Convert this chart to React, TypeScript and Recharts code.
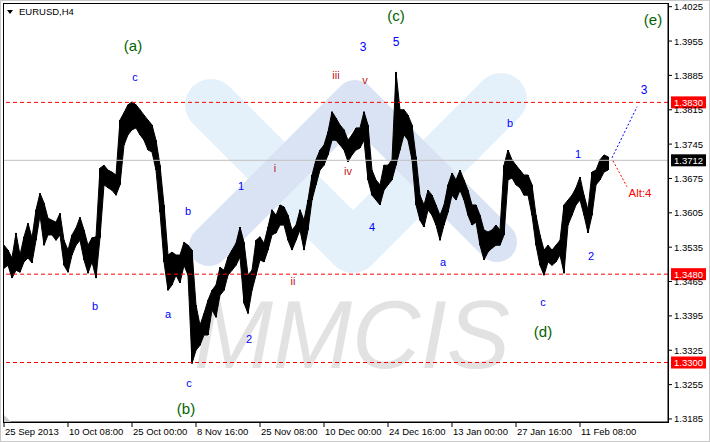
import React from 'react';
import { ComposedChart, Bar, Area, XAxis, YAxis, ReferenceLine, ReferenceDot } from 'recharts';

// EURUSD H4 – sampled every 4 bars (high / low of each sample)
const highs = [
  1.3539, 1.3529, 1.3513, 1.3564, 1.3519, 1.3556, 1.3584, 1.3554, 1.3611, 1.3645,
  1.3625, 1.3594, 1.3590, 1.3586, 1.3604, 1.3549, 1.3529, 1.3560, 1.3574, 1.3596,
  1.3570, 1.3539, 1.3554, 1.3556, 1.3696, 1.3702, 1.3692, 1.3688, 1.3682, 1.3794,
  1.3809, 1.3825, 1.3831, 1.3825, 1.3815, 1.3804, 1.3794, 1.3784, 1.3753, 1.3702,
  1.3621, 1.3519, 1.3525, 1.3519, 1.3519, 1.3545, 1.3539, 1.3529, 1.3417, 1.3376,
  1.3400, 1.3427, 1.3447, 1.3458, 1.3494, 1.3488, 1.3515, 1.3529, 1.3543, 1.3576,
  1.3545, 1.3478, 1.3488, 1.3549, 1.3556, 1.3543, 1.3576, 1.3611, 1.3600, 1.3621,
  1.3617, 1.3600, 1.3570, 1.3580, 1.3611, 1.3590, 1.3631, 1.3682, 1.3713, 1.3733,
  1.3743, 1.3770, 1.3811, 1.3798, 1.3784, 1.3774, 1.3753, 1.3764, 1.3778, 1.3778,
  1.3811, 1.3784, 1.3692, 1.3672, 1.3662, 1.3702, 1.3702, 1.3713, 1.3892, 1.3815,
  1.3815, 1.3804, 1.3784, 1.3719, 1.3641, 1.3621, 1.3651, 1.3641, 1.3621, 1.3600,
  1.3621, 1.3662, 1.3686, 1.3672, 1.3692, 1.3672, 1.3651, 1.3621, 1.3621, 1.3600,
  1.3570, 1.3566, 1.3570, 1.3580, 1.3570, 1.3702, 1.3733, 1.3713, 1.3702, 1.3692,
  1.3682, 1.3682, 1.3662, 1.3600, 1.3560, 1.3529, 1.3539, 1.3529, 1.3539, 1.3549,
  1.3621, 1.3631, 1.3641, 1.3656, 1.3678, 1.3641, 1.3611, 1.3688, 1.3692, 1.3713,
  1.3723, 1.3719,
];
const lows = [
  1.3492, 1.3498, 1.3472, 1.3488, 1.3484, 1.3505, 1.3513, 1.3503, 1.3549, 1.3600,
  1.3539, 1.3560, 1.3560, 1.3549, 1.3560, 1.3498, 1.3484, 1.3519, 1.3539, 1.3549,
  1.3509, 1.3482, 1.3505, 1.3472, 1.3554, 1.3662, 1.3656, 1.3651, 1.3641, 1.3662,
  1.3743, 1.3764, 1.3774, 1.3778, 1.3764, 1.3753, 1.3733, 1.3729, 1.3692, 1.3606,
  1.3505, 1.3447, 1.3458, 1.3478, 1.3462, 1.3498, 1.3478, 1.3298, 1.3325, 1.3335,
  1.3356, 1.3356, 1.3407, 1.3392, 1.3437, 1.3447, 1.3478, 1.3488, 1.3498, 1.3515,
  1.3421, 1.3400, 1.3447, 1.3478, 1.3509, 1.3505, 1.3529, 1.3560, 1.3564, 1.3580,
  1.3580, 1.3549, 1.3529, 1.3549, 1.3570, 1.3529, 1.3570, 1.3631, 1.3662, 1.3692,
  1.3702, 1.3723, 1.3753, 1.3753, 1.3743, 1.3733, 1.3709, 1.3723, 1.3733, 1.3737,
  1.3753, 1.3672, 1.3641, 1.3631, 1.3621, 1.3651, 1.3662, 1.3672, 1.3702, 1.3733,
  1.3764, 1.3753, 1.3713, 1.3621, 1.3590, 1.3576, 1.3611, 1.3600, 1.3580, 1.3549,
  1.3580, 1.3606, 1.3641, 1.3631, 1.3651, 1.3631, 1.3600, 1.3580, 1.3586, 1.3539,
  1.3509, 1.3525, 1.3533, 1.3539, 1.3539, 1.3560, 1.3672, 1.3676, 1.3662, 1.3656,
  1.3641, 1.3641, 1.3600, 1.3539, 1.3498, 1.3478, 1.3505, 1.3498, 1.3505, 1.3519,
  1.3482, 1.3580, 1.3600, 1.3621, 1.3631, 1.3600, 1.3564, 1.3600, 1.3662, 1.3672,
  1.3688, 1.3692,
];
const BARS_PER_SAMPLE = 4;

const xTickIdx = [0, 64, 128, 192, 256, 320, 384, 448, 512, 576];
const xTickLabels = [
  '25 Sep 2013', '10 Oct 08:00', '25 Oct 00:00', '8 Nov 16:00', '25 Nov 08:00',
  '10 Dec 00:00', '24 Dec 16:00', '13 Jan 00:00', '27 Jan 16:00', '11 Feb 08:00',
];
const yTicks = [1.3185, 1.3255, 1.3325, 1.3395, 1.3465, 1.3535, 1.3605, 1.3675, 1.3745, 1.3815, 1.3885, 1.3955, 1.4025];

const redLevels = [1.383, 1.348, 1.33];
const currentPrice = 1.3712;

const G = '#006400';
const B = '#0000ff';
const R = '#c01818';
const A = '#ff0000';
const waveLabels = [
  { t: '(a)', n: 129, p: 1.3945, c: G, s: 15 },
  { t: 'c', n: 131, p: 1.3882, c: B, s: 11 },
  { t: 'b', n: 91, p: 1.3415, c: B, s: 11 },
  { t: 'b', n: 184, p: 1.3609, c: B, s: 11 },
  { t: 'a', n: 164, p: 1.3398, c: B, s: 11 },
  { t: 'c', n: 185, p: 1.3258, c: B, s: 11 },
  { t: '(b)', n: 182, p: 1.3207, c: G, s: 15 },
  { t: '1', n: 237, p: 1.366, c: B, s: 11 },
  { t: '2', n: 245, p: 1.3347, c: B, s: 11 },
  { t: 'i', n: 271, p: 1.3696, c: R, s: 11 },
  { t: 'ii', n: 289, p: 1.3466, c: R, s: 11 },
  { t: 'iii', n: 332, p: 1.3886, c: R, s: 11 },
  { t: 'iv', n: 344, p: 1.369, c: R, s: 11 },
  { t: 'v', n: 361, p: 1.3876, c: R, s: 11 },
  { t: '3', n: 359, p: 1.3943, c: B, s: 12 },
  { t: '5', n: 392, p: 1.3953, c: B, s: 12 },
  { t: '(c)', n: 392, p: 1.4008, c: G, s: 15 },
  { t: '4', n: 368, p: 1.3576, c: B, s: 11 },
  { t: 'a', n: 439, p: 1.3505, c: B, s: 11 },
  { t: 'b', n: 506, p: 1.3788, c: B, s: 11 },
  { t: 'c', n: 539, p: 1.3423, c: B, s: 11 },
  { t: '(d)', n: 539, p: 1.3364, c: G, s: 15 },
  { t: '1', n: 574, p: 1.3725, c: B, s: 11 },
  { t: '2', n: 587, p: 1.3517, c: B, s: 11 },
  { t: '3', n: 640, p: 1.3855, c: B, s: 12 },
  { t: 'Alt:4', n: 636, p: 1.3645, c: A, s: 11.5 },
  { t: '(e)', n: 649, p: 1.3998, c: G, s: 15 },
];

const projUp = [{ x: 608, y: 1.3717 }, { x: 633, y: 1.3821 }];
const projAlt = [{ x: 609, y: 1.3711 }, { x: 623, y: 1.3658 }];

const FONT = '"Liberation Sans", Arial, sans-serif';

const data = highs.map((h, i) => ({ n: i * BARS_PER_SAMPLE, range: [lows[i], h] }));

const XTick = (props: any) => {
  const { x, y, payload } = props;
  const idx = xTickIdx.indexOf(payload.value);
  return (
    <text x={x + 1} y={y} dy={8} fontSize={9.5} fontFamily={FONT} fill="#000" textAnchor="start">
      {xTickLabels[idx]}
    </text>
  );
};

const YTick = (props: any) => {
  const { x, y, payload } = props;
  return (
    <text x={x} y={y} dy={3.5} fontSize={9.5} fontFamily={FONT} fill="#000" textAnchor="start">
      {Number(payload.value).toFixed(4)}
    </text>
  );
};

const priceBox = (value: number, bg: string) => (props: any) => {
  const vb = props.viewBox || {};
  const x = vb.x + vb.width + 3;
  const y = vb.y;
  return (
    <g>
      <rect x={x} y={y - 6} width={35} height={12} fill={bg} />
      <text x={x + 3} y={y + 3.5} fontSize={9.5} fontFamily={FONT} fill="#fff">
        {value.toFixed(4)}
      </text>
    </g>
  );
};

export default function App() {
  return (
    <div style={{ position: 'absolute', left: 0, top: 0, width: 710, height: 442, background: '#fff' }}>
      <svg width={710} height={442} style={{ position: 'absolute', left: 0, top: 0 }}>
        <polyline points="211,105 353,247 501,99" fill="none" stroke="#e5f1fa" strokeWidth={52} strokeLinecap="round" strokeLinejoin="round" />
        <polyline points="209,246 355,100 497,242" fill="none" stroke="#d9e3f3" strokeWidth={40} strokeLinecap="round" strokeLinejoin="round" />
        <text x={194} y={368} fontSize={96} fontFamily={FONT} fontStyle="italic" fill="#e2e2e2" textLength={316} lengthAdjust="spacingAndGlyphs">
          MMCIS
        </text>
      </svg>
      <div style={{ position: 'absolute', left: 0, top: 0 }}>
        <ComposedChart width={710} height={442} data={data} margin={{ top: 3, right: 0, bottom: 0, left: 3 }}>
          <XAxis
            dataKey="n"
            type="number"
            domain={[-1, 664]}
            allowDataOverflow
            ticks={xTickIdx}
            tick={<XTick />}
            tickSize={5}
            tickMargin={0}
            height={20}
            stroke="#000"
            interval={0}
          />
          <YAxis
            orientation="right"
            type="number"
            domain={[1.31788, 1.40325]}
            allowDataOverflow
            ticks={yTicks}
            tick={<YTick />}
            tickSize={4}
            tickMargin={2}
            width={42}
            stroke="#000"
            interval={0}
          />
          {redLevels.map((v) => (
            <ReferenceLine key={v} y={v} stroke="#ff0000" strokeDasharray="4 3" label={priceBox(v, '#ff0000')} />
          ))}
          <ReferenceLine y={currentPrice} stroke="#c0c0c0" label={priceBox(currentPrice, '#000000')} />
          <Area dataKey="range" type="linear" fill="#000" fillOpacity={1} stroke="#000" strokeWidth={1} isAnimationActive={false} dot={false} activeDot={false} />
          <Bar dataKey="range" fill="#000" barSize={2} isAnimationActive={false} />
          <ReferenceLine segment={projUp} stroke="#0000ff" strokeDasharray="2 2" ifOverflow="visible" />
          <ReferenceLine segment={projAlt} stroke="#ff0000" strokeDasharray="2 2" ifOverflow="visible" />
          {waveLabels.map((a, i) => (
            <ReferenceDot
              key={i}
              x={a.n}
              y={a.p}
              r={1}
              ifOverflow="visible"
              shape={(p: any) => (
                <text x={p.cx} y={p.cy} textAnchor="middle" dominantBaseline="central" fontSize={a.s} fontFamily={FONT} fill={a.c}>
                  {a.t}
                </text>
              )}
            />
          ))}
        </ComposedChart>
      </div>
      <svg width={710} height={442} style={{ position: 'absolute', left: 0, top: 0, pointerEvents: 'none' }}>
        <rect x={0.5} y={0.5} width={709} height={441} fill="none" stroke="#c8c8c8" />
        <rect x={3.5} y={3.5} width={665} height={419} fill="none" stroke="#000" />
        <polygon points="4,415 4,422 11,422" fill="#c8c8c8" />
        <polygon points="7,10 13,10 10,14" fill="#000" />
        <text x={19} y={15} fontSize={9.5} fontFamily={FONT} fill="#000">EURUSD,H4</text>
      </svg>
    </div>
  );
}
